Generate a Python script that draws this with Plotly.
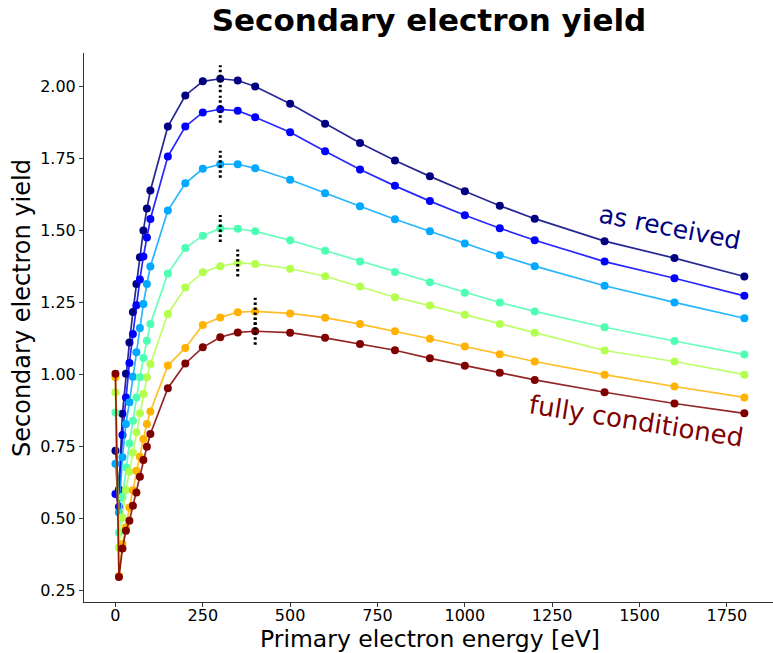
import plotly.graph_objects as go

energy = [0, 10, 20, 30, 40, 50, 60, 70, 80, 90, 100, 150, 200, 250, 300, 350, 400,
          500, 600, 700, 800, 900, 1000, 1100, 1200, 1400, 1600, 1800]

sey_navy = [0.735, 0.60, 0.863, 1.002, 1.111, 1.217, 1.314, 1.407, 1.500, 1.576, 1.639, 1.861, 1.969,
            2.018, 2.027, 2.021, 2.000, 1.940, 1.871, 1.804, 1.743, 1.688, 1.636, 1.586, 1.541,
            1.463, 1.404, 1.340]
sey_blue = [0.585, 0.54, 0.79, 0.92, 1.04, 1.14, 1.24, 1.33, 1.41, 1.476, 1.540, 1.757, 1.861,
            1.910, 1.921, 1.916, 1.893, 1.841, 1.775, 1.712, 1.655, 1.602, 1.553, 1.508, 1.466,
            1.392, 1.334, 1.273]
sey_lightblue = [0.690, 0.52, 0.712, 0.828, 0.903, 0.992, 1.077, 1.161, 1.245, 1.314, 1.375, 1.569,
                 1.664, 1.714, 1.730, 1.730, 1.716, 1.676, 1.629, 1.584, 1.539, 1.497, 1.455,
                 1.414, 1.376, 1.308, 1.250, 1.195]
sey_aqua = [0.868, 0.451, 0.573, 0.677, 0.760, 0.839, 0.920, 0.990, 1.057, 1.117, 1.175, 1.351, 1.439,
            1.482, 1.507, 1.506, 1.497, 1.466, 1.430, 1.392, 1.356, 1.320, 1.284, 1.250, 1.219,
            1.164, 1.116, 1.069]
sey_yellowgreen = [0.938, 0.399, 0.503, 0.598, 0.662, 0.729, 0.799, 0.865, 0.932, 0.990, 1.036, 1.210,
                   1.302, 1.355, 1.376, 1.387, 1.384, 1.367, 1.341, 1.305, 1.268, 1.239, 1.207,
                   1.175, 1.145, 1.083, 1.045, 0.999]
sey_orange = [0.99, 0.30, 0.411, 0.468, 0.538, 0.598, 0.665, 0.714, 0.776, 0.828, 0.871, 1.031, 1.092,
              1.172, 1.198, 1.216, 1.219, 1.212, 1.197, 1.175, 1.150, 1.124, 1.097, 1.070, 1.045,
              0.999, 0.958, 0.920]
sey_darkred = [1.002, 0.296, 0.395, 0.457, 0.492, 0.544, 0.590, 0.645, 0.703, 0.749, 0.793, 0.952, 1.038,
               1.094, 1.129, 1.146, 1.150, 1.145, 1.127, 1.106, 1.084, 1.056, 1.030, 1.006, 0.981,
               0.938, 0.899, 0.865]

series = [sey_navy, sey_blue, sey_lightblue, sey_aqua, sey_yellowgreen, sey_orange, sey_darkred]
colors = [(0, 0, 128), (0, 0, 255), (0, 168, 255), (77, 255, 178), (179, 255, 77), (255, 179, 0), (128, 0, 0)]

# energy of maximum yield for each curve (dotted markers)
peak_energy = [300, 300, 300, 300, 350, 400, 400]
peak_halfspan = 0.047

x_ticks = [0, 250, 500, 750, 1000, 1250, 1500, 1750]
y_ticks = [0.25, 0.50, 0.75, 1.00, 1.25, 1.50, 1.75, 2.00]

FONT = "DejaVu Sans"

fig = go.Figure()
for vals, (r, g, b) in zip(series, colors):
    fig.add_trace(go.Scatter(
        x=energy, y=vals, mode="lines+markers",
        line=dict(color=f"rgba({r},{g},{b},0.85)", width=1.7),
        marker=dict(color=f"rgb({r},{g},{b})", size=8, line=dict(width=0)),
        showlegend=False, hoverinfo="skip"))

for vals, pe in zip(series, peak_energy):
    pv = vals[energy.index(pe)]
    fig.add_trace(go.Scatter(
        x=[pe, pe], y=[pv - peak_halfspan, pv + peak_halfspan], mode="lines",
        line=dict(color="black", width=3, dash="2.5px,2.5px"),
        showlegend=False, hoverinfo="skip"))

L, R, T, B, W, H = 84, 0, 53, 51, 773, 653

fig.update_layout(
    width=W, height=H,
    margin=dict(l=L, r=R, t=T, b=B),
    paper_bgcolor="white", plot_bgcolor="white",
    font=dict(family=FONT, color="black"),
    title=dict(text="<b>Secondary electron yield</b>", x=0.555, xanchor="center",
               y=0.969, yanchor="middle", font=dict(family=FONT, size=31, color="black")),
    annotations=[
        dict(text="as received", x=1588, y=1.509, xref="x", yref="y", showarrow=False,
             textangle=11, font=dict(family=FONT, size=25, color="rgb(0,0,128)")),
        dict(text="fully conditioned", x=1490, y=0.838, xref="x", yref="y", showarrow=False,
             textangle=9, font=dict(family=FONT, size=26, color="rgb(128,0,0)")),
        dict(text="Secondary electron yield",
             x=(22 - L) / (W - L - R), y=(H - B - 308) / (H - T - B),
             xref="paper", yref="paper",
             showarrow=False, textangle=-90, xanchor="center", yanchor="middle",
             font=dict(family=FONT, size=24, color="black")),
        dict(text="Primary electron energy [eV]",
             x=(430 - L) / (W - L - R), y=(H - B - 639) / (H - T - B),
             xref="paper", yref="paper", borderpad=0,
             showarrow=False, xanchor="center", yanchor="middle",
             font=dict(family=FONT, size=23.5, color="black")),
    ],
)

fig.update_xaxes(
    range=[-90, 1882], tickvals=x_ticks, ticktext=[str(t) for t in x_ticks],
    showgrid=False, zeroline=False, showline=True, linecolor="#333", linewidth=1,
    ticks="outside", ticklen=4, tickcolor="#333", tickfont=dict(size=16, family=FONT),
    ticklabelstandoff=-5)
fig.update_yaxes(
    range=[0.2095, 2.1165], tickvals=y_ticks, ticktext=[f"{t:.2f}" for t in y_ticks],
    showgrid=False, zeroline=False, showline=True, linecolor="#333", linewidth=1,
    ticks="outside", ticklen=4, tickcolor="#333", tickfont=dict(size=16, family=FONT))

fig.write_html("out.html")
